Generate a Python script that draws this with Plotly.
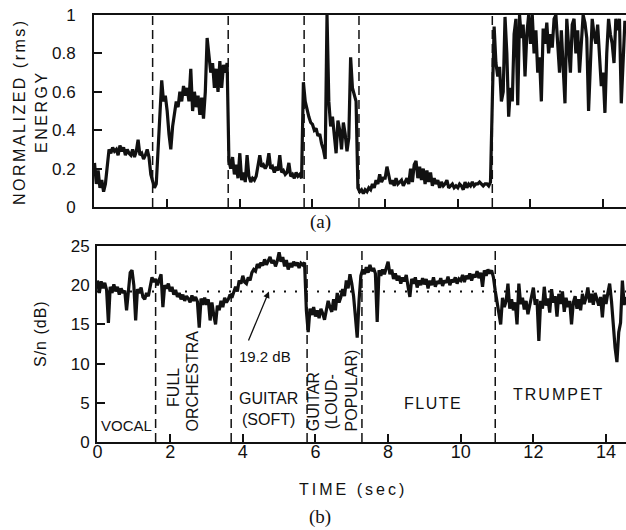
import numpy as np
import plotly.graph_objects as go

# Sample spacing of the traces (seconds)
STEP = 0.05

# (a) normalized rms energy, one row per second of the recording
energy = [
    0.23, 0.12, 0.19, 0.10, 0.14, 0.08, 0.12, 0.22, 0.30, 0.28, 0.31, 0.29, 0.30, 0.27, 0.32, 0.29, 0.31, 0.27, 0.30, 0.28,
    0.27, 0.30, 0.26, 0.29, 0.35, 0.27, 0.28, 0.25, 0.27, 0.30, 0.26, 0.17, 0.13, 0.10, 0.12, 0.27, 0.48, 0.66, 0.55, 0.58,
    0.50, 0.38, 0.30, 0.42, 0.50, 0.55, 0.52, 0.60, 0.55, 0.63, 0.58, 0.62, 0.55, 0.72, 0.50, 0.60, 0.52, 0.58, 0.48, 0.57,
    0.46, 0.60, 0.88, 0.78, 0.70, 0.75, 0.62, 0.72, 0.60, 0.76, 0.62, 0.74, 0.70, 0.75, 0.24, 0.20, 0.26, 0.17, 0.22, 0.15,
    0.28, 0.14, 0.18, 0.13, 0.27, 0.16, 0.13, 0.15, 0.14, 0.16, 0.23, 0.27, 0.21, 0.22, 0.20, 0.22, 0.28, 0.20, 0.21, 0.18,
    0.21, 0.19, 0.27, 0.18, 0.19, 0.17, 0.18, 0.23, 0.16, 0.17, 0.15, 0.18, 0.16, 0.17, 0.15, 0.65, 0.55, 0.50, 0.47, 0.44,
    0.43, 0.40, 0.41, 0.37, 0.38, 0.33, 0.30, 0.25, 1.00, 0.55, 0.42, 0.47, 0.38, 0.28, 0.45, 0.40, 0.30, 0.44, 0.38, 0.29,
    0.36, 0.78, 0.62, 0.58, 0.55, 0.10, 0.08, 0.09, 0.07, 0.09, 0.08, 0.10, 0.09, 0.12, 0.10, 0.14, 0.12, 0.17, 0.13, 0.15,
    0.15, 0.21, 0.16, 0.12, 0.14, 0.11, 0.15, 0.12, 0.13, 0.14, 0.11, 0.13, 0.15, 0.12, 0.20, 0.13, 0.22, 0.24, 0.15, 0.21,
    0.14, 0.20, 0.12, 0.19, 0.13, 0.18, 0.11, 0.15, 0.12, 0.14, 0.10, 0.13, 0.11, 0.12, 0.14, 0.10, 0.11, 0.12, 0.10, 0.11,
    0.10, 0.12, 0.11, 0.09, 0.13, 0.10, 0.12, 0.11, 0.13, 0.11, 0.12, 0.12, 0.13, 0.12, 0.11, 0.12, 0.12, 0.11, 0.13, 0.55,
    0.94, 0.75, 0.68, 0.73, 0.55, 0.60, 0.99, 0.80, 0.47, 0.62, 0.55, 0.90, 0.98, 0.53, 1.00, 0.88, 0.95, 0.68, 0.90, 1.00,
    0.85, 1.00, 0.80, 0.92, 0.70, 0.78, 0.55, 0.93, 0.85, 0.96, 0.80, 0.90, 0.83, 0.98, 1.00, 0.85, 0.70, 0.92, 0.75, 0.54,
    0.98, 0.85, 0.70, 0.95, 0.98, 0.80, 0.92, 0.70, 0.85, 1.00, 0.96, 0.88, 0.50, 0.75, 0.98, 0.90, 0.85, 0.95, 0.78, 0.63,
    0.70, 0.49, 0.80, 0.98, 0.90, 0.85, 0.75, 0.98, 0.92, 0.98, 0.54, 0.80, 0.97,
]

# (b) signal-to-noise ratio in dB, one row per second
snr = [
    20.6, 19.0, 20.5, 19.6, 20.3, 19.4, 15.2, 19.8, 19.0, 20.1, 19.2, 19.8, 18.8, 19.6, 19.0, 19.3, 16.8, 19.2, 21.6, 21.9,
    20.0, 15.5, 19.5, 19.0, 19.7, 18.5, 18.2, 19.0, 18.6, 19.8, 21.0, 20.4, 20.8, 20.0, 20.6, 21.4, 17.2, 20.0, 19.6, 20.2,
    19.2, 19.8, 18.8, 19.4, 18.5, 19.0, 18.2, 18.8, 18.0, 18.6, 18.3, 17.8, 18.7, 18.0, 18.5, 17.9, 14.6, 18.3, 17.5, 18.4,
    17.5, 18.2, 15.5, 17.8, 16.2, 15.0, 17.4, 16.8, 18.0, 17.2, 18.4, 17.8, 18.2, 18.8, 18.4, 19.3, 19.8, 19.2, 20.6, 20.2,
    21.2, 20.4, 20.2, 21.0, 20.6, 21.6, 22.0, 21.8, 22.7, 22.2, 22.9, 22.5, 23.3, 22.6, 23.0, 23.6, 22.8, 23.2, 22.4, 23.1,
    24.2, 23.0, 23.6, 22.4, 23.2, 22.0, 22.8, 22.3, 23.0, 22.5, 22.9, 22.2, 22.8, 22.6, 22.9, 16.8, 14.0, 17.0, 16.2, 17.2,
    16.0, 16.8, 15.8, 17.0, 16.4, 15.6, 16.8, 18.0, 17.2, 16.6, 18.2, 16.8, 19.0, 17.8, 18.5, 19.5, 18.6, 20.6, 19.6, 21.4,
    20.2, 18.6, 16.0, 13.3, 18.0, 21.2, 22.0, 21.4, 22.3, 21.6, 22.6, 21.8, 22.2, 21.5, 15.3, 21.9, 21.2, 22.0, 21.4, 22.1,
    23.0, 21.4, 22.0, 20.8, 21.5, 20.6, 21.2, 20.2, 21.0, 20.5, 21.3, 19.8, 18.5, 20.8, 20.2, 21.0, 19.7, 20.6, 20.0, 20.9,
    20.1, 20.8, 19.6, 20.6, 20.0, 21.0, 19.8, 20.5, 20.2, 20.9, 19.9, 20.6, 20.3, 21.1, 20.0, 20.7, 20.4, 21.0, 20.2, 20.8,
    20.6, 21.3, 20.4, 21.2, 20.8, 21.5, 20.6, 21.4, 21.0, 21.8, 20.9, 21.6, 19.8, 21.9, 21.2, 22.0, 21.5, 21.9, 21.0, 19.3,
    18.0, 16.8, 15.0, 18.4, 17.2, 18.0, 20.2, 17.0, 18.2, 16.8, 17.8, 15.0, 20.2, 17.6, 18.4, 16.9, 18.0, 16.3, 17.5, 18.5,
    19.7, 17.5, 18.2, 12.9, 18.0, 17.0, 19.8, 17.4, 18.3, 16.5, 19.5, 17.8, 18.6, 16.0, 18.9, 17.6, 19.2, 16.6, 18.4, 17.2,
    18.0, 15.0, 17.8, 18.6, 17.0, 18.2, 16.8, 18.9, 17.6, 18.4, 19.7, 17.8, 18.9, 17.5, 19.0, 18.2, 17.4, 18.5, 15.9, 18.8,
    17.6, 19.0, 20.2, 18.0, 14.6, 12.0, 10.2, 14.0, 15.2, 20.6, 17.5, 18.5,
]

t_energy = np.round(np.arange(len(energy)) * STEP, 2)
t_snr = np.round(np.arange(len(snr)) * STEP, 2)

# Segment boundaries between the musical passages (sec)
boundaries = [1.6, 3.68, 5.77, 7.28, 10.95]
snr_ref = 19.2

x_ticks = [0, 2, 4, 6, 8, 10, 12, 14]
energy_ticks = [0, 0.2, 0.4, 0.6, 0.8, 1.0]
energy_ticktext = ["0", "0.2", "0.4", "0.6", "0.8", "1"]
snr_ticks = [0, 5, 10, 15, 20, 25]

SANS = "Liberation Sans"
SERIF = "Liberation Serif"
INK = "#111111"

fig = go.Figure()
fig.add_trace(go.Scatter(x=t_snr, y=snr, mode="lines", xaxis="x", yaxis="y",
                         line=dict(color=INK, width=3.2), showlegend=False))
fig.add_trace(go.Scatter(x=t_energy, y=energy, mode="lines", xaxis="x2", yaxis="y2",
                         line=dict(color=INK, width=3.2), showlegend=False))

axis_common = dict(showline=True, linecolor=INK, linewidth=2, mirror=True,
                   ticks="inside", ticklen=8, tickwidth=1.5, tickcolor=INK,
                   showgrid=False, zeroline=False,
                   tickfont=dict(family=SANS, size=17, color=INK))

fig.update_layout(
    width=626, height=530,
    margin=dict(l=94, r=0, t=15, b=88),
    paper_bgcolor="white", plot_bgcolor="white",
    xaxis=dict(axis_common, domain=[3 / 532, 1], range=[-0.014, 14.55], anchor="y",
               tickvals=x_ticks, ticklabelstandoff=-8,
               tickfont=dict(family=SANS, size=18, color=INK)),
    yaxis=dict(axis_common, domain=[0, 196 / 427], range=[0, 25], anchor="x",
               tickvals=snr_ticks, mirror=False, ticklabelstandoff=2),
    xaxis2=dict(axis_common, domain=[0, 1], range=[-0.014, 14.63], anchor="y2",
                tickvals=x_ticks, showticklabels=False),
    yaxis2=dict(axis_common, domain=[1 - 192 / 427, 1], range=[0, 1], anchor="x2",
                tickvals=energy_ticks, ticktext=energy_ticktext, mirror=False,
                ticklabelstandoff=13),
)

# Dashed separators between passages in both panels
for b in boundaries:
    for xr, yr in (("x", "y domain"), ("x2", "y2 domain")):
        fig.add_shape(type="line", xref=xr, yref=yr, x0=b, x1=b, y0=0, y1=1,
                      line=dict(color=INK, width=1.5, dash="9px,5px"))

# Dotted reference level at 19.2 dB
fig.add_shape(type="line", xref="x domain", yref="y", x0=0, x1=1, y0=snr_ref, y1=snr_ref,
              layer="below", line=dict(color=INK, width=2, dash="2px,9px"))

def label(text, x, y, size=16, angle=0, **kw):
    fig.add_annotation(text=text, x=x, y=y, xref="x", yref="y", showarrow=False,
                       textangle=angle, font=dict(family=SANS, size=size, color=INK), **kw)

label("VOCAL", 0.81, 2.1, size=15)
label("FULL", 2.09, 6.95, angle=-90)
label("ORCHESTRA", 2.62, 7.8, angle=-90)
label("GUITAR<br>(SOFT)", 4.72, 4.2, size=16)
label("GUITAR", 5.97, 1.1, angle=-90, yanchor="bottom")
label("(LOUD-", 6.45, 1.4, angle=-90, yanchor="bottom")
label("POPULAR)", 6.98, 1.1, angle=-90, yanchor="bottom")
label('<span style="letter-spacing:1.5px">FLUTE</span>', 9.24, 4.97)
label('<span style="letter-spacing:2px">TRUMPET</span>', 12.7, 6.0)
label("19.2 dB", 4.62, 10.9, size=15)

# Arrow from the 19.2 dB label to the dotted level
fig.add_annotation(x=4.72, y=snr_ref, ax=4.14, ay=12.75, xref="x", yref="y",
                   axref="x", ayref="y", showarrow=True, arrowhead=2, arrowsize=1,
                   arrowwidth=1.3, arrowcolor=INK, standoff=0, text="")

def paper_label(text, px, py, size=16, angle=0, family=SANS):
    fig.add_annotation(text=text, x=(px - 94) / 532, y=(442 - py) / 427,
                       xref="paper", yref="paper", xanchor="center", yanchor="middle",
                       showarrow=False, textangle=angle,
                       font=dict(family=family, size=size, color=INK))

paper_label('<span style="letter-spacing:2.5px">NORMALIZED (rms)</span>', 19, 112, angle=-90)
paper_label('<span style="letter-spacing:2.5px">ENERGY</span>', 41, 112, angle=-90)
paper_label('<span style="letter-spacing:1px">S/n (dB)</span>', 40, 334, angle=-90)
paper_label('<span style="letter-spacing:3px">TIME (sec)</span>', 353, 490)
paper_label("(a)", 320, 222, size=19, family=SERIF)
paper_label("(b)", 320, 517, size=19, family=SERIF)

fig.write_html("out.html")
